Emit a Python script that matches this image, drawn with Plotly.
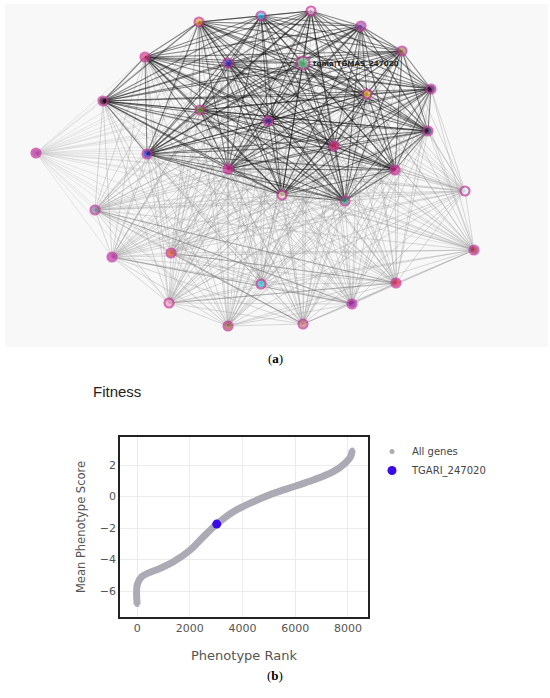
import plotly.graph_objects as go

# ---- panel (a): co-expression network, node positions in panel pixels
node_x = [199, 261, 311, 361, 402, 145, 228, 303, 431, 367, 103, 200, 268, 428, 334, 36,
          147, 228, 395, 282, 345, 465, 95, 112, 171, 474, 261, 396, 169, 352, 228, 303]
node_y = [22, 16, 11, 26, 51, 57, 63, 63, 89, 94, 101, 110, 121, 131, 146, 153,
          154, 169, 170, 195, 201, 191, 210, 257, 253, 250, 284, 283, 303, 304, 326, 324]
node_fill = ['#f0a030', '#40c8e8', '#f8c8e4', '#9a60c0', '#b08060', '#e04080', '#4040d0', '#70d090',
             '#401050', '#f0d040', '#300020', '#80a040', '#6030a0', '#302050', '#e8306a', '#b020a0',
             '#3030d0', '#e0309a', '#d03090', '#f8e0c0', '#40a080', '#e0f0f0', '#8080a0', '#c030b0',
             '#e05030', '#a02040', '#40d0e0', '#e0204a', '#f0a0c0', '#9010a0', '#a06040', '#c08070']
hub_node = 7
hub_label = 'tgma|TGMAS_247020'
# nodes of the strongly connected module (dark edges)
module = [0, 1, 2, 3, 4, 5, 6, 7, 8, 9, 10, 11, 12, 13, 14, 16, 17, 18, 19, 20]
# a few medium-weight edges in the lower part
medium_pairs = [(22, 27), (23, 29), (22, 29), (24, 27), (28, 27), (24, 31)]

# ---- panel (b): fitness curve
rank = [0, 5, 177, 872, 1377, 2009, 2514, 3020, 3651, 4409, 5167, 5925, 6683, 7441, 7885, 8100, 8162]
score = [-6.85, -5.6, -5.09, -4.56, -4.14, -3.40, -2.55, -1.75, -0.96, -0.33, 0.2, 0.62, 1.05,
         1.58, 2.11, 2.53, 2.95]
gene_rank = [3020]
gene_score = [-1.75]

fig = go.Figure()

n = len(node_x)
in_module = set(module)


def add_edges(pairs_by_src, color, width):
    for src, dsts in pairs_by_src.items():
        xs, ys = [], []
        for d in dsts:
            xs += [node_x[src], node_x[d], None]
            ys += [node_y[src], node_y[d], None]
        fig.add_trace(go.Scatter(x=xs, y=ys, mode='lines', xaxis='x2', yaxis='y2',
                                 line=dict(color=color, width=width),
                                 hoverinfo='skip', showlegend=False))


light, faint, dark = {}, {}, {}
for i in range(n):
    for j in range(i + 1, n):
        if i in in_module and j in in_module:
            dark.setdefault(i, []).append(j)
        elif i == 15 or j == 15:
            faint.setdefault(i, []).append(j)
        else:
            light.setdefault(i, []).append(j)

add_edges(faint, 'rgba(190,190,190,0.35)', 1)
add_edges(light, 'rgba(150,150,150,0.35)', 1)
add_edges(dark, 'rgba(20,20,20,0.5)', 1.1)
med = {}
for a, b in medium_pairs:
    med.setdefault(a, []).append(b)
add_edges(med, 'rgba(110,110,110,0.4)', 1.1)

sizes = [13 if i == hub_node else 9 for i in range(n)]
fig.add_trace(go.Scatter(x=node_x, y=node_y, mode='markers', xaxis='x2', yaxis='y2',
                         marker=dict(size=sizes, color=node_fill,
                                     line=dict(color='#c4339a', width=2.2)),
                         hoverinfo='skip', showlegend=False))

# panel (b) traces
fig.add_trace(go.Scatter(x=rank, y=score, mode='lines', line=dict(color='#abaab5', width=7, shape='spline'),
                         legendgroup='all', showlegend=False, hoverinfo='skip'))
fig.add_trace(go.Scatter(x=rank, y=score, mode='markers', name='All genes', legendgroup='all',
                         marker=dict(color='#abaab5', size=5)))
fig.add_trace(go.Scatter(x=gene_rank, y=gene_score, mode='markers', name='TGARI_247020',
                         marker=dict(color='#3a0ae8', size=9)))

axis_font = dict(family='DejaVu Sans', size=11, color='#555')
fig.update_layout(
    width=550, height=698,
    margin=dict(l=0, r=0, t=0, b=0),
    paper_bgcolor='white', plot_bgcolor='white',
    font=dict(family='DejaVu Sans', color='#444'),
    title=dict(text='Fitness', x=93 / 550, xanchor='left', y=1 - 392 / 698, yanchor='middle',
               font=dict(family='Liberation Sans', size=15, color='#222')),
    xaxis=dict(domain=[120 / 550, 368 / 550], range=[-650, 8760], dtick=2000,
               showgrid=True, gridcolor='#ececec', zeroline=False,
               showline=True, linecolor='#222', linewidth=1.5, mirror=True,
               tickfont=axis_font,
               title=dict(text='Phenotype Rank', font=dict(family='DejaVu Sans', size=13, color='#555'),
                          standoff=17)),
    yaxis=dict(domain=[1 - 617 / 698, 1 - 437 / 698], range=[-7.65, 3.78], dtick=2,
               showgrid=True, gridcolor='#ececec', zeroline=False,
               showline=True, linecolor='#222', linewidth=1.5, mirror=True,
               tickfont=axis_font,
               title=dict(text='Mean Phenotype Score', font=dict(family='DejaVu Sans', size=11.5, color='#555'),
                          standoff=12)),
    xaxis2=dict(domain=[0, 1], range=[0, 550], visible=False, fixedrange=True),
    yaxis2=dict(domain=[1 - 350 / 698, 1], range=[350, 0], visible=False, fixedrange=True),
    legend=dict(x=372 / 550, y=1 - 437 / 698, xanchor='left', yanchor='top',
                font=dict(family='DejaVu Sans', size=10, color='#444'),
                bgcolor='rgba(0,0,0,0)', tracegroupgap=0),
    shapes=[dict(type='rect', xref='x2', yref='y2', x0=5, x1=548, y0=4, y1=347,
                 fillcolor='#f8f8f8', line=dict(width=0), layer='below')],
    annotations=[
        dict(x=node_x[hub_node] + 8, y=node_y[hub_node], xref='x2', yref='y2', text='<b>' + hub_label + '</b>',
             showarrow=False, xanchor='left', yanchor='middle',
             font=dict(family='DejaVu Sans', size=7.2, color='#222')),
        dict(x=0.5, y=1 - 358 / 698, xref='paper', yref='paper', text='(<b>a</b>)', showarrow=False,
             font=dict(family='Liberation Serif', size=13, color='black')),
        dict(x=0.5, y=1 - 685 / 698, xref='paper', yref='paper', text='(<b>b</b>)', showarrow=False,
             font=dict(family='Liberation Serif', size=13, color='black')),
    ],
)

# the page's default body margin would shift the figure by 8px
fig.write_html("out.html", config={'displayModeBar': False},
               post_script="document.body.style.margin='0px';")
